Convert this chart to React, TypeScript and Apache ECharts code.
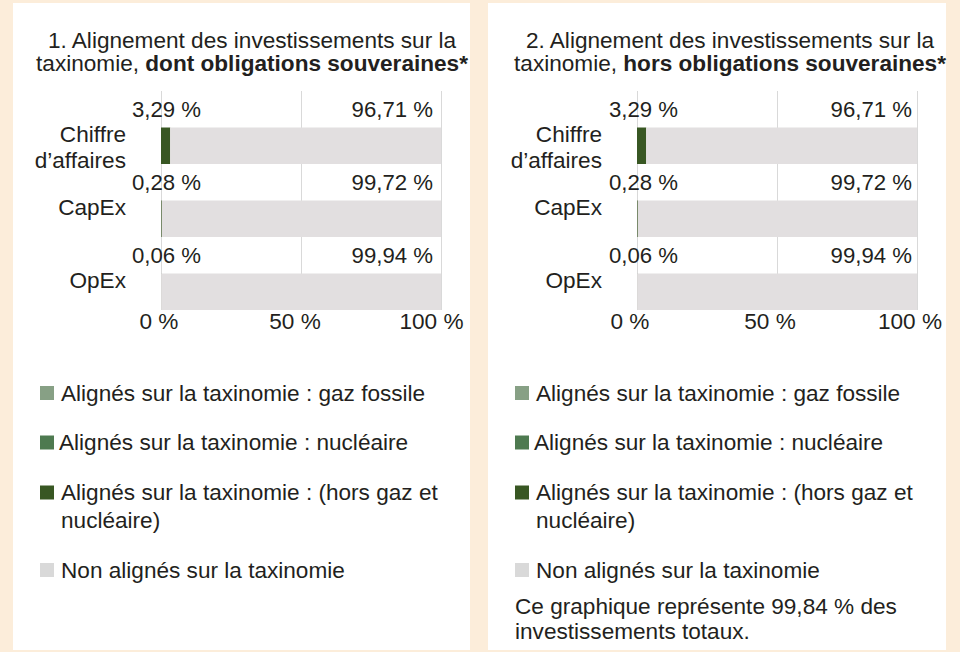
import React, { useEffect, useRef } from 'react';
import * as echarts from 'echarts';

// ---------- data ----------
const categories = ['Chiffre\nd’affaires', 'CapEx', 'OpEx'];
const xTickInterval = 50;
const seriesNames = [
  'Alignés sur la taxinomie : gaz fossile',
  'Alignés sur la taxinomie : nucléaire',
  'Alignés sur la taxinomie : (hors gaz et nucléaire)',
  'Non alignés sur la taxinomie',
];
const seriesColors = ['#87a085', '#4e7a50', '#385723', '#e2dfe0'];
const legendColors = ['#87a085', '#4e7a50', '#385723', '#d9d9d9'];

// 1. dont obligations souveraines
const gas1 = [0, 0, 0];
const nuclear1 = [0, 0, 0];
const other1 = [3.29, 0.28, 0.06];
const notAligned1 = [96.71, 99.72, 99.94];

// 2. hors obligations souveraines
const gas2 = [0, 0, 0];
const nuclear2 = [0, 0, 0];
const other2 = [3.29, 0.28, 0.06];
const notAligned2 = [96.71, 99.72, 99.94];

const title1Line1 = '1. Alignement des investissements sur la';
const title1Line2a = 'taxinomie, ';
const title1Line2b = 'dont obligations souveraines*';
const title2Line1 = '2. Alignement des investissements sur la';
const title2Line2a = 'taxinomie, ';
const title2Line2b = 'hors obligations souveraines*';
const footnote = 'Ce graphique représente 99,84 % des\ninvestissements totaux.';

// ---------- style ----------
const FONT = '"Liberation Sans", Arial, Helvetica, sans-serif';
const TXT = '#231f20';
const FS = 22.6;
const FSV = 22.2;

const fmtPct = (v: number) => v.toFixed(2).replace('.', ',') + ' %';

function buildChart(
  idx: number,
  gridLeft: number,
  arrays: number[][],
  leftLabelOffset: number,
  rightLabelDist: number,
  tickPads: number[],
) {
  const axisIdx = idx * 2;
  const aligned = arrays[0].map((_, i) => +(arrays[0][i] + arrays[1][i] + arrays[2][i]).toFixed(2));
  const notAligned = arrays[3];
  const grids = [
    { left: gridLeft, top: 91, width: 280, height: 219 },
    { left: gridLeft, top: 85, width: 280, height: 219 },
  ];
  const tokenStyle = (pr: number) => ({
    fontSize: FS,
    fontFamily: FONT,
    color: TXT,
    lineHeight: 22,
    padding: [0, pr, 0, 0],
  });
  const xAxes = [
    {
      gridIndex: axisIdx,
      type: 'value',
      min: 0,
      max: 100,
      interval: xTickInterval,
      axisLine: { show: false },
      axisTick: { show: false },
      splitLine: { show: true, lineStyle: { color: '#d9d9d9', width: 1 } },
      axisLabel: {
        formatter: (v: number) => '{p' + v + '|' + v + ' %}',
        fontSize: FS,
        fontFamily: FONT,
        color: TXT,
        margin: 0,
        lineHeight: 22,
        rich: {
          p0: tokenStyle(tickPads[0]),
          p50: tokenStyle(tickPads[1]),
          p100: tokenStyle(tickPads[2]),
        },
      },
    },
    {
      gridIndex: axisIdx + 1,
      type: 'value',
      min: 0,
      max: 100,
      show: false,
    },
  ];
  const yAxes = [
    {
      gridIndex: axisIdx,
      type: 'category',
      inverse: true,
      data: categories,
      axisLine: { show: false },
      axisTick: { show: false },
      axisLabel: { show: false },
      splitLine: { show: false },
    },
    {
      gridIndex: axisIdx + 1,
      type: 'category',
      inverse: true,
      data: categories,
      axisLine: { show: false },
      axisTick: { show: false },
      splitLine: { show: false },
      axisLabel: {
        fontSize: FS,
        fontFamily: FONT,
        color: TXT,
        lineHeight: 26,
        verticalAlign: 'top',
        margin: 35,
      },
    },
  ];
  const labelBase = {
    show: true,
    fontSize: FSV,
    fontFamily: FONT,
    color: TXT,
    formatter: (p: any) => fmtPct(p.value),
  };
  const series: any[] = [
    {
      type: 'bar',
      name: '_aligned_label_' + idx,
      stack: 'labels' + idx,
      xAxisIndex: axisIdx,
      yAxisIndex: axisIdx,
      data: aligned,
      barWidth: 36.5,
      barGap: '0%',
      silent: true,
      itemStyle: { color: 'rgba(0,0,0,0)' },
      label: { ...labelBase, position: 'insideLeft', distance: 0, offset: [leftLabelOffset, 0] },
    },
    {
      type: 'bar',
      name: '_notaligned_label_' + idx,
      stack: 'labels' + idx,
      xAxisIndex: axisIdx,
      yAxisIndex: axisIdx,
      data: notAligned,
      barWidth: 36.5,
      barGap: '0%',
      silent: true,
      itemStyle: { color: 'rgba(0,0,0,0)' },
      label: { ...labelBase, position: 'insideRight', distance: rightLabelDist },
    },
  ];
  arrays.forEach((arr, k) => {
    series.push({
      type: 'bar',
      name: seriesNames[k],
      stack: 'tax' + idx,
      xAxisIndex: axisIdx,
      yAxisIndex: axisIdx,
      data: arr,
      barWidth: 36.5,
      barGap: '0%',
      itemStyle: { color: seriesColors[k] },
      emphasis: { disabled: true },
    });
  });
  return { grids, xAxes, yAxes, series };
}

function buildLegends(left: number) {
  const centers = [393, 442.5, 492.5, 570];
  return seriesNames.map((name, k) => {
    const twoLine = k === 2;
    const lh = twoLine ? 27.6 : 26;
    return {
      data: [{ name, itemStyle: { color: legendColors[k] } }],
      orient: 'vertical',
      left,
      top: twoLine ? centers[k] - lh * 1.5 : centers[k] - 13,
      padding: 0,
      itemWidth: 14,
      itemHeight: 14,
      icon: 'rect',
      formatter: (n: string) =>
        twoLine ? ' \n' + n.replace('et nucléaire', 'et\nnucléaire') : n,
      textStyle: {
        fontSize: FS,
        fontFamily: FONT,
        color: TXT,
        lineHeight: lh,
        padding: [0, 0, 0, k === 1 ? 0 : 2],
      },
    };
  });
}

export default function App() {
  const ref = useRef<HTMLDivElement>(null);
  useEffect(() => {
    if (!ref.current) return;
    const chart = echarts.init(ref.current, null, { renderer: 'svg' });
    const c1 = buildChart(0, 161, [gas1, nuclear1, other1, notAligned1], -29, 8, [4, 12, 19]);
    const c2 = buildChart(1, 637, [gas2, nuclear2, other2, notAligned2], -28, 5, [14, 14, 14]);

    const titleText = (x: number, l1: string, l2a: string, l2b: string) => [
      {
        type: 'text',
        x,
        y: 40,
        z: 5,
        style: {
          text: l1,
          fontSize: FS,
          fontFamily: FONT,
          fill: TXT,
          align: 'center',
          verticalAlign: 'middle',
        },
      },
      {
        type: 'text',
        x,
        y: 63,
        z: 5,
        style: {
          text: '{r|' + l2a + '}{b|' + l2b + '}',
          fontSize: FS,
          fontFamily: FONT,
          fill: TXT,
          align: 'center',
          verticalAlign: 'middle',
          rich: {
            r: { fontSize: FS, fontFamily: FONT, fill: TXT },
            b: { fontSize: FS, fontFamily: FONT, fontWeight: 'bold', fill: TXT },
          },
        },
      },
    ];

    chart.setOption({
      animation: false,
      backgroundColor: '#fcedda',
      grid: [...c1.grids, ...c2.grids],
      xAxis: [...c1.xAxes, ...c2.xAxes],
      yAxis: [...c1.yAxes, ...c2.yAxes],
      series: [...c1.series, ...c2.series],
      legend: [...buildLegends(40), ...buildLegends(515)],
      graphic: [
        { type: 'rect', z: -10, shape: { x: 13, y: 3, width: 457, height: 647 }, style: { fill: '#ffffff' } },
        { type: 'rect', z: -10, shape: { x: 488, y: 3, width: 458, height: 647 }, style: { fill: '#ffffff' } },
        ...titleText(252, title1Line1, title1Line2a, title1Line2b),
        ...titleText(730, title2Line1, title2Line2a, title2Line2b),
        {
          type: 'text',
          x: 515,
          y: 594,
          z: 5,
          style: {
            text: footnote,
            fontSize: FS,
            fontFamily: FONT,
            fill: TXT,
            lineHeight: 25,
            align: 'left',
            verticalAlign: 'top',
          },
        },
      ],
    });
    return () => chart.dispose();
  }, []);
  return (
    <div
      ref={ref}
      style={{ position: 'fixed', left: 0, top: 0, width: 960, height: 652 }}
    />
  );
}
